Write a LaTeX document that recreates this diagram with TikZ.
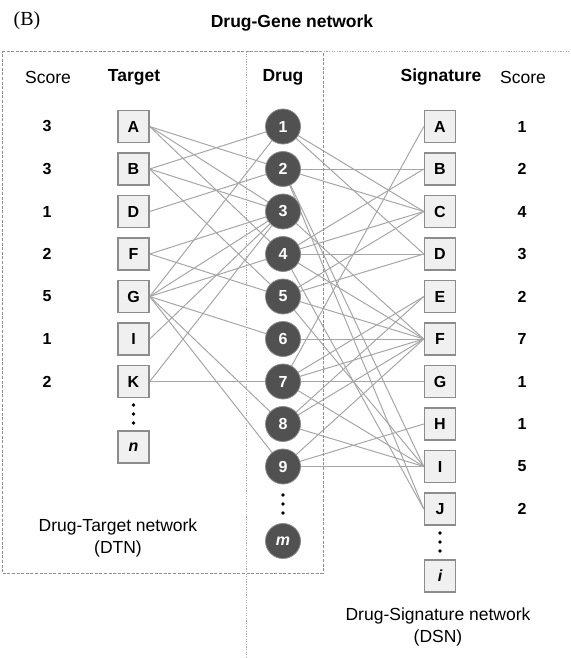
\documentclass[tikz,border=0pt]{standalone}
\usepackage{fontspec}
\setmainfont{Liberation Sans}
\newfontfamily\labserif{Liberation Serif}
\usetikzlibrary{backgrounds}
\definecolor{edgegray}{HTML}{A6A6A6}
\definecolor{boxline}{HTML}{8C8C8C}
\definecolor{boxfill}{HTML}{F0F0F0}
\definecolor{drugfill}{HTML}{515151}
\definecolor{drugrim}{HTML}{8A8A8A}
\definecolor{frameA}{HTML}{8E8E8E}
\definecolor{frameB}{HTML}{A8A8A8}
\tikzset{
  tbox/.style={draw=boxline, fill=boxfill, line width=1.4pt, minimum width=31pt, minimum height=32pt, inner sep=0pt, font=\fontsize{16}{16}\selectfont\bfseries},
  dcirc/.style={circle, fill=drugfill, draw=drugrim, line width=0.8pt, minimum size=35pt, inner sep=0pt, text=white, font=\fontsize{16}{16}\selectfont\bfseries},
  lnk/.style={draw=edgegray, line width=1pt},
  hdr/.style={font=\fontsize{17.5}{17.5}\selectfont\bfseries},
  hdrr/.style={font=\fontsize{17.5}{17.5}\selectfont},
  scorelab/.style={font=\fontsize{16}{16}\selectfont\bfseries},
  dotmark/.style={fill=black, circle, inner sep=0pt, minimum size=3.8pt},
  caption/.style={font=\fontsize{17.5}{22}\selectfont, align=center}
}
\begin{document}
\begin{tikzpicture}[x=1pt,y=-1pt]
\useasboundingbox (0,0) rectangle (570,658);
% frames
\draw[frameA, line width=1pt, dash pattern=on 3pt off 1.6pt] (2,52) -- (323,52) -- (323,573) -- (2,573) -- cycle;
\draw[frameB, line width=1pt, dash pattern=on 1.2pt off 1.4pt] (246,658) -- (246,52) -- (569,52);
% titles
\node[font=\labserif\fontsize{20}{20}\selectfont] (lb) at (27,21) {(B)};
\node[hdr] (title) at (292,23) {Drug-Gene network};
\node[hdrr] (hs1) at (48,77) {Score};
\node[hdr] (ht) at (134,77) {Target};
\node[hdr] (hd) at (283,77) {Drug};
\node[hdr] (hs) at (441,77) {Signature};
\node[hdrr] (hs2) at (523,77) {Score};
% target nodes
\node[tbox] (tA) at (133.5,126.5) {A};
\node[tbox] (tB) at (133.5,169) {B};
\node[tbox] (tD) at (133.5,211.5) {D};
\node[tbox] (tF) at (133.5,254) {F};
\node[tbox] (tG) at (133.5,296.5) {G};
\node[tbox] (tI) at (133.5,339) {I};
\node[tbox] (tK) at (133.5,381.5) {K};
\node[tbox] (tn) at (133.5,447) {\itshape n};
\node[dotmark] (td1) at (133.5,405) {};
\node[dotmark] (td2) at (133.5,414) {};
\node[dotmark] (td3) at (133.5,423) {};
% drug nodes
\node[dcirc] (d1) at (283,126.5) {1};
\node[dcirc] (d2) at (283,169) {2};
\node[dcirc] (d3) at (283,211.5) {3};
\node[dcirc] (d4) at (283,254) {4};
\node[dcirc] (d5) at (283,296.5) {5};
\node[dcirc] (d6) at (283,339) {6};
\node[dcirc] (d7) at (283,381.5) {7};
\node[dcirc] (d8) at (283,424) {8};
\node[dcirc] (d9) at (283,466.5) {9};
\node[dcirc] (dm) at (283,541) {\itshape m};
\node[dotmark] (dd1) at (283,495) {};
\node[dotmark] (dd2) at (283,504) {};
\node[dotmark] (dd3) at (283,513) {};
% signature nodes
\node[tbox] (sA) at (440,126.5) {A};
\node[tbox] (sB) at (440,169) {B};
\node[tbox] (sC) at (440,211.5) {C};
\node[tbox] (sD) at (440,254) {D};
\node[tbox] (sE) at (440,296.5) {E};
\node[tbox] (sF) at (440,339) {F};
\node[tbox] (sG) at (440,381.5) {G};
\node[tbox] (sH) at (440,424) {H};
\node[tbox] (sI) at (440,466.5) {I};
\node[tbox] (sJ) at (440,509) {J};
\node[tbox] (si) at (440,576) {\itshape i};
\node[dotmark] (sd1) at (440,533) {};
\node[dotmark] (sd2) at (440,542) {};
\node[dotmark] (sd3) at (440,551) {};
% scores
\node[scorelab] (lsA) at (47,126.5) {3};
\node[scorelab] (lsB) at (47,169) {3};
\node[scorelab] (lsD) at (47,211.5) {1};
\node[scorelab] (lsF) at (47,254) {2};
\node[scorelab] (lsG) at (47,296.5) {5};
\node[scorelab] (lsI) at (47,339) {1};
\node[scorelab] (lsK) at (47,381.5) {2};
\node[scorelab] (rsA) at (522,126.5) {1};
\node[scorelab] (rsB) at (522,169) {2};
\node[scorelab] (rsC) at (522,211.5) {4};
\node[scorelab] (rsD) at (522,254) {3};
\node[scorelab] (rsE) at (522,296.5) {2};
\node[scorelab] (rsF) at (522,339) {7};
\node[scorelab] (rsG) at (522,381.5) {1};
\node[scorelab] (rsH) at (522,424) {1};
\node[scorelab] (rsI) at (522,466.5) {5};
\node[scorelab] (rsJ) at (522,509) {2};
% captions
\node[caption] (dtn) at (118,538) {Drug-Target network\\(DTN)};
\node[caption] (dsn) at (438,627) {Drug-Signature network\\(DSN)};
% edges
\begin{pgfonlayer}{background}
\foreach \t/\d in {A/2,A/3,A/4,B/1,B/3,B/5,D/2,F/3,F/5,G/1,G/3,G/4,G/6,G/8,G/9,I/3,K/3,K/7}
  \draw[lnk] (t\t.east) -- (d\d.center);
\foreach \d/\s in {1/C,1/D,2/B,2/C,2/I,2/J,3/F,4/B,4/C,4/D,4/F,4/J,5/C,5/D,5/F,5/I,6/F,7/A,7/E,7/F,7/G,7/I,8/E,8/F,8/I,9/F,9/H,9/I}
  \draw[lnk] (d\d.center) -- (s\s.west);
\end{pgfonlayer}
\end{tikzpicture}
\end{document}
